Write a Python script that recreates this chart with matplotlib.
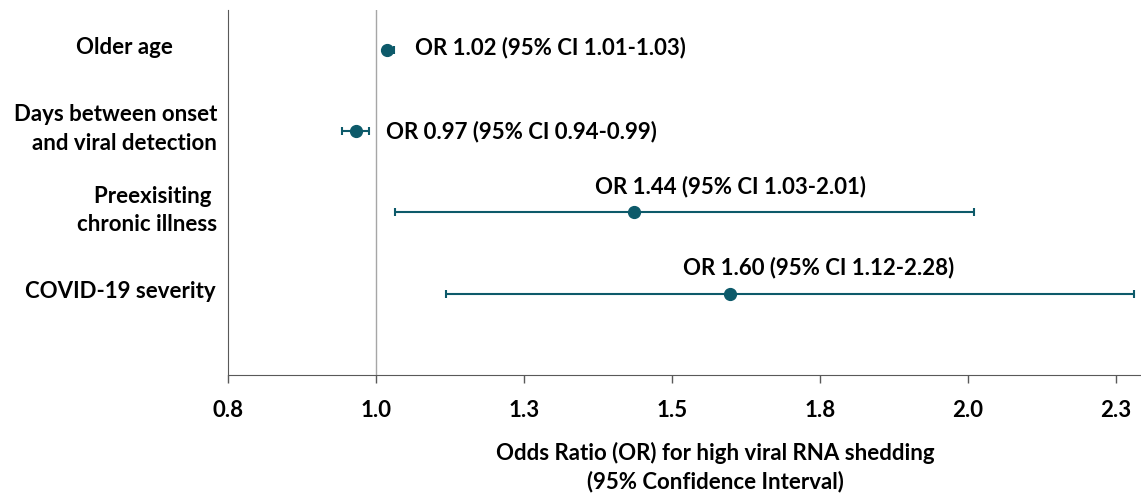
import matplotlib.pyplot as plt

# odds ratios with 95% confidence intervals
factors = ["Older age", "Days between onset\nand viral detection",
           "Preexisiting \nchronic illness", "COVID-19 severity"]
odds = [1.02, 0.97, 1.44, 1.60]
ci_low = [1.01, 0.94, 1.03, 1.12]
ci_high = [1.03, 0.99, 2.01, 2.28]
# plotted point positions (unrounded estimates)
point_x = [1.019, 0.966, 1.436, 1.598]
low_x = [1.013, 0.943, 1.032, 1.118]
high_x = [1.030, 0.988, 2.010, 2.280]
xticks = [0.75, 1.0, 1.25, 1.5, 1.75, 2.0, 2.25]
xtick_labels = ["0.8", "1.0", "1.3", "1.5", "1.8", "2.0", "2.3"]

teal = "#0d5a6a"
font = "Lato"
fs = 16

fig = plt.figure(figsize=(11.41, 4.97), dpi=100)
ax = fig.add_axes([228 / 1141, 1 - 375 / 497, 913 / 1141, 365 / 497])

ypos = [4, 3, 2, 1]
xerr = [[p - l for p, l in zip(point_x, low_x)],
        [h - p for p, h in zip(point_x, high_x)]]
ax.errorbar(point_x, ypos, xerr=xerr, fmt="o", color=teal, ms=8.5,
            elinewidth=1.5, capsize=3, capthick=1.5, zorder=3)

ax.axvline(1.0, color="#a6a6a6", lw=1, zorder=1)

# value labels
labels = [f"OR {o:.2f} (95% CI {l:.2f}-{h:.2f})" for o, l, h in zip(odds, ci_low, ci_high)]
lab_x = [1.066, 1.017, 1.370, 1.519]
lab_y = [4.03, 3.0, 2.32, 1.32]
for i, t in enumerate(labels):
    ax.text(lab_x[i], lab_y[i], t, ha="left", va="center", fontsize=fs,
            fontweight="bold", family=font, color="black")

ax.set_xlim(0.75, 0.75 + 913 / 592)
ax.set_ylim(0, 4.49)
ax.set_xticks(xticks)
ax.set_xticklabels(xtick_labels, fontsize=fs, fontweight="bold", family=font)
ax.tick_params(axis="x", length=6, width=1, color="#595959", pad=12)
ax.set_yticks([])

# category names, right edges in figure pixels
name_right = [173, 217, 217, 216]
for i, f in enumerate(factors):
    ax.text(name_right[i] / 1141, ypos[i] / 4.49 * (365 / 497) + (1 - 375 / 497) + 0.004,
            f, transform=fig.transFigure, ha="right", va="center", fontsize=fs,
            fontweight="bold", family=font, color="black", linespacing=1.45)

for s in ["top", "right"]:
    ax.spines[s].set_visible(False)
ax.spines["left"].set_color("#595959")
ax.spines["bottom"].set_color("#595959")

fig.text(715 / 1141, 1 - 467 / 497,
         "Odds Ratio (OR) for high viral RNA shedding\n(95% Confidence Interval)",
         ha="center", va="center", fontsize=fs, fontweight="bold",
         family=font, color="black", linespacing=1.4)

fig.savefig("out.png", dpi=100)
